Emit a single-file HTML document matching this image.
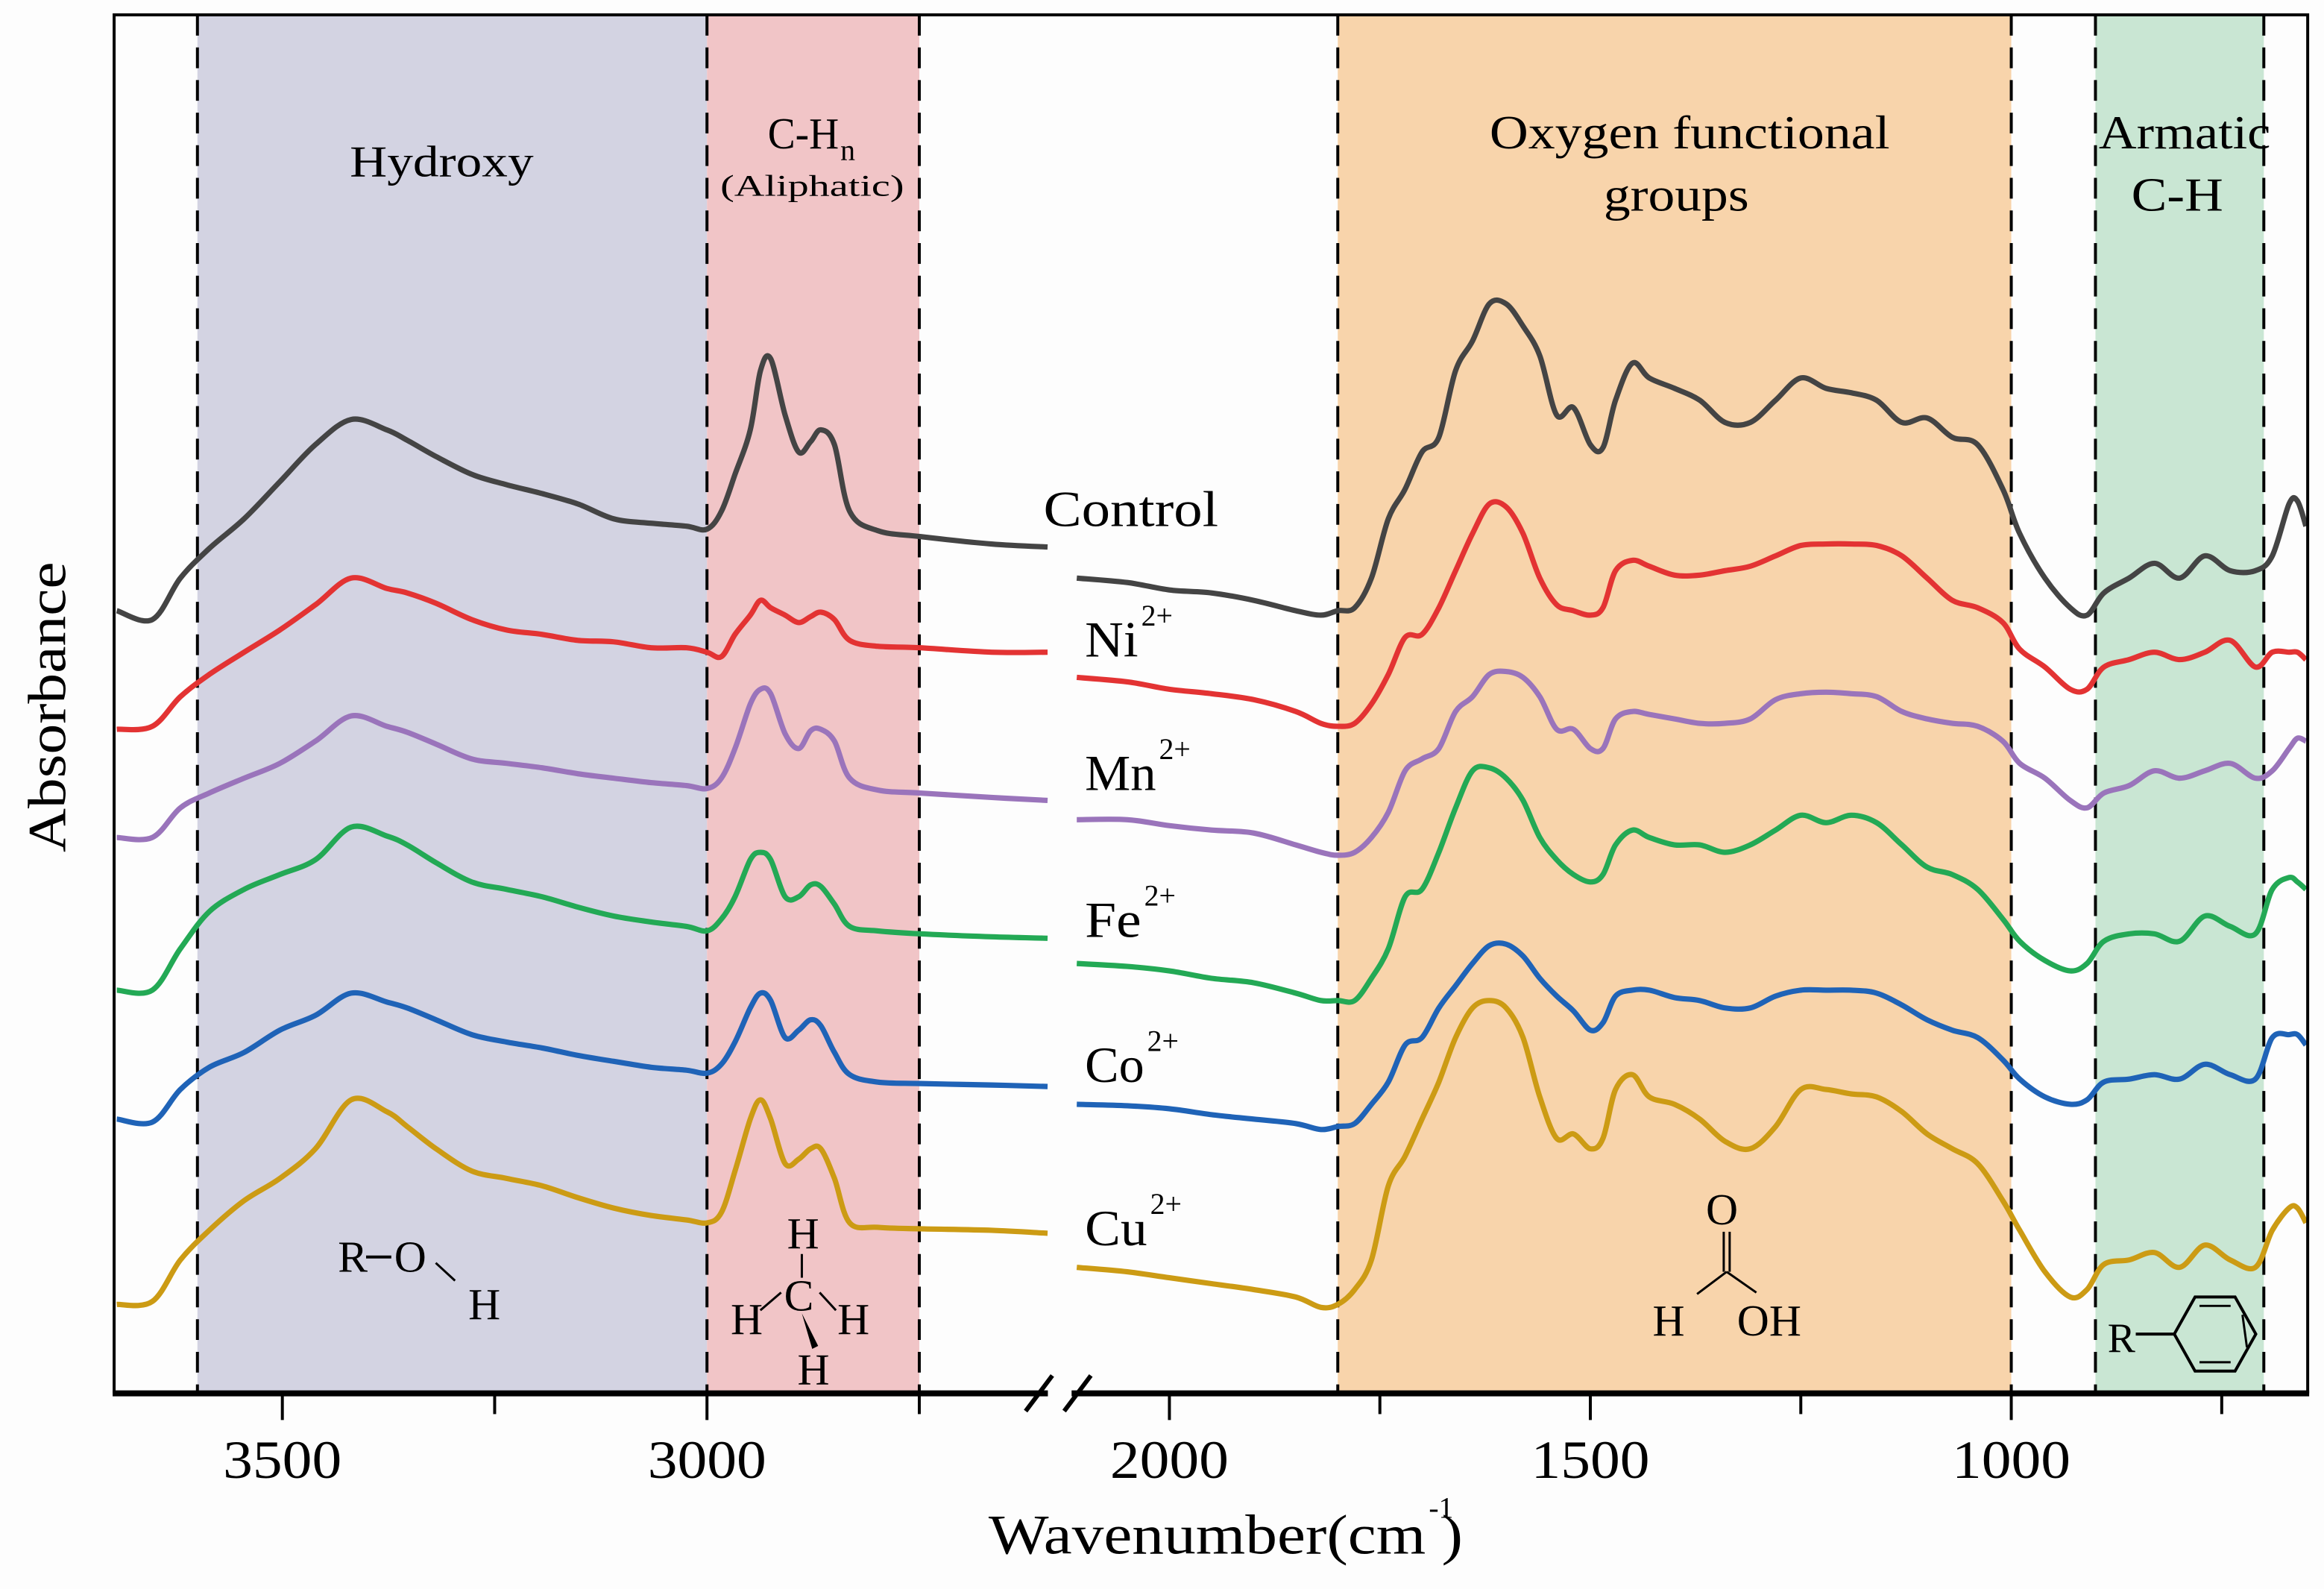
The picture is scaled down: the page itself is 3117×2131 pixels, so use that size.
<!DOCTYPE html>
<html><head><meta charset="utf-8">
<style>
html,body{margin:0;padding:0;background:#fff;}
svg{display:block;}
text{font-family:"Liberation Serif",serif;fill:#000;}
</style></head>
<body>
<svg id="chart" width="3117" height="2131" viewBox="0 0 1568 1072" preserveAspectRatio="none" xmlns="http://www.w3.org/2000/svg">
<rect x="0" y="0" width="1568" height="1072" fill="#fdfdfd"/>
<g id="bands"></g>
<g id="dashes"></g>
<g id="curves"></g>
<g id="axes"></g>
<g id="labels">
 <text x="298" y="119" font-size="30" text-anchor="middle" textLength="124" lengthAdjust="spacingAndGlyphs">Hydroxy</text>
 <text x="518" y="100" font-size="30" textLength="48" lengthAdjust="spacingAndGlyphs">C-H</text>
 <text x="567" y="108" font-size="20">n</text>
 <text x="548" y="132" font-size="20" text-anchor="middle" textLength="124" lengthAdjust="spacingAndGlyphs">(Aliphatic)</text>
 <text x="1140" y="100" font-size="32" text-anchor="middle" textLength="270" lengthAdjust="spacingAndGlyphs">Oxygen functional</text>
 <text x="1131" y="142" font-size="32" text-anchor="middle" textLength="98" lengthAdjust="spacingAndGlyphs">groups</text>
 <text x="1474" y="100" font-size="32" text-anchor="middle" textLength="116" lengthAdjust="spacingAndGlyphs">Armatic</text>
 <text x="1469" y="142" font-size="32" text-anchor="middle" textLength="62" lengthAdjust="spacingAndGlyphs">C-H</text>

 <text x="704" y="355" font-size="34" textLength="118" lengthAdjust="spacingAndGlyphs">Control</text>
 <g><text x="732" y="443" font-size="34" textLength="36" lengthAdjust="spacingAndGlyphs">Ni</text><text x="770" y="422" font-size="20">2+</text></g>
 <g><text x="732" y="533" font-size="34" textLength="48" lengthAdjust="spacingAndGlyphs">Mn</text><text x="782" y="512" font-size="20">2+</text></g>
 <g><text x="732" y="632" font-size="34" textLength="38" lengthAdjust="spacingAndGlyphs">Fe</text><text x="772" y="611" font-size="20">2+</text></g>
 <g><text x="732" y="730" font-size="34" textLength="40" lengthAdjust="spacingAndGlyphs">Co</text><text x="774" y="709" font-size="20">2+</text></g>
 <g><text x="732" y="840" font-size="34" textLength="42" lengthAdjust="spacingAndGlyphs">Cu</text><text x="776" y="819" font-size="20">2+</text></g>

 <g>
  <text x="228" y="858" font-size="30">R</text>
  <line x1="247" y1="848" x2="264" y2="848" stroke="#000" stroke-width="2"/>
  <text x="266" y="858" font-size="30">O</text>
  <line x1="294" y1="852" x2="307" y2="864" stroke="#000" stroke-width="1.5"/>
  <text x="316" y="890" font-size="30">H</text>
 </g>
 <g>
  <text x="531" y="842" font-size="30">H</text>
  <line x1="541" y1="846" x2="541" y2="862" stroke="#000" stroke-width="1.5"/>
  <text x="529" y="884" font-size="30">C</text>
  <text x="493" y="900" font-size="30">H</text>
  <text x="565" y="900" font-size="30">H</text>
  <line x1="513" y1="884" x2="527" y2="872" stroke="#000" stroke-width="1.5"/>
  <line x1="553" y1="872" x2="564" y2="884" stroke="#000" stroke-width="1.5"/>
  <polygon points="541,886 548,910 552,908" fill="#000"/>
  <text x="538" y="934" font-size="30">H</text>
 </g>
 <g>
  <text x="1151" y="826" font-size="30">O</text>
  <line x1="1163" y1="831" x2="1163" y2="858" stroke="#000" stroke-width="1.5"/>
  <line x1="1167" y1="831" x2="1167" y2="858" stroke="#000" stroke-width="1.5"/>
  <line x1="1165" y1="858" x2="1145" y2="873" stroke="#000" stroke-width="1.5"/>
  <line x1="1165" y1="858" x2="1185" y2="872" stroke="#000" stroke-width="1.5"/>
  <text x="1115" y="901" font-size="30">H</text>
  <text x="1172" y="901" font-size="30">OH</text>
 </g>
 <g>
  <text x="1422" y="912" font-size="28">R</text>
  <line x1="1441" y1="900" x2="1467" y2="900" stroke="#000" stroke-width="2"/>
  <polygon points="1467,900 1481,875 1508,875 1522,900 1508,925 1481,925" fill="none" stroke="#000" stroke-width="2"/>
  <line x1="1484" y1="881" x2="1505" y2="881" stroke="#000" stroke-width="1.5"/>
  <line x1="1513" y1="887" x2="1516" y2="909" stroke="#000" stroke-width="1.5"/>
  <line x1="1484" y1="919" x2="1505" y2="919" stroke="#000" stroke-width="1.5"/>
 </g>

 <text x="827" y="1048" font-size="38" text-anchor="middle" textLength="320" lengthAdjust="spacingAndGlyphs">Wavenumber(cm  )</text>
 <text x="964" y="1024" font-size="20">-1</text>
 <text transform="translate(44,477) rotate(-90)" font-size="36" text-anchor="middle" textLength="196" lengthAdjust="spacingAndGlyphs">Absorbance</text>
</g>
</svg>
<script>
const wnLeft = [3695,3653,3620,3586,3545,3503,3461,3419,3377,3353,3319,3277,3236,3194,3152,3110,3066,3024,3000,2983,2967,2949,2937,2925,2908,2892,2878,2866,2850,2832,2799,2749,2665,2599];
const wnRight = [2110,2050,2000,1950,1900,1850,1820,1800,1780,1760,1740,1720,1700,1680,1660,1640,1620,1600,1580,1560,1540,1520,1500,1485,1470,1450,1430,1400,1370,1340,1310,1280,1250,1220,1190,1160,1130,1100,1070,1040,1010,990,960,930,910,890,860,830,800,770,740,710,690,670,660,650];
const seriesNames = ["Control","Ni","Mn","Fe","Co","Cu"];
const seriesColors = ["#444444","#e33333","#9a74bb","#23a955","#1f63b7","#cc9b14"];
const controlLeft = [528,522,550,570,590,615,640,657,650,643,632,620,613,607,600,590,587,585,583,595,620,650,690,698,660,635,642,650,640,595,582,578,573,571];
const controlRight = [550,547,542,540,535,528,525,528,530,550,590,610,635,645,690,710,735,735,720,700,660,665,640,638,670,695,685,678,670,655,655,670,685,678,675,670,655,658,645,640,610,580,550,530,525,540,550,560,550,565,555,555,565,600,602,585];
const niLeft = [448,450,470,485,500,515,532,550,543,540,533,522,515,512,508,507,503,503,500,497,512,525,535,530,525,520,524,527,522,508,504,503,500,500];
const niRight = [483,480,475,472,468,460,452,450,452,465,485,510,512,530,555,580,600,598,580,550,532,528,525,530,555,562,558,552,552,555,558,565,572,573,573,572,565,550,535,530,520,502,490,475,475,490,495,500,495,500,508,490,500,500,500,495];
const mnLeft = [375,375,395,405,415,425,440,457,450,446,438,428,425,422,418,415,412,410,408,415,435,465,475,472,445,435,447,448,440,415,407,405,402,400];
const mnRight = [387,387,383,380,378,370,365,363,365,375,392,420,428,435,460,470,485,487,483,470,448,448,435,435,455,460,458,455,452,452,455,468,472,473,472,470,460,455,452,450,440,425,415,400,395,405,410,420,415,420,425,415,420,435,442,440];
const feLeft = [272,272,300,325,340,350,360,382,376,370,358,345,340,335,328,322,318,315,312,320,335,360,365,360,335,335,343,342,330,315,312,310,308,307];
const feRight = [290,288,285,280,277,270,265,265,265,280,300,335,340,365,395,420,422,415,400,375,360,350,345,350,370,380,375,370,370,365,370,380,390,385,390,385,370,355,350,340,320,305,292,285,290,305,310,310,305,322,315,310,340,348,345,340];
const coLeft = [185,183,205,220,230,245,255,270,264,260,252,242,237,233,228,224,220,218,216,222,237,260,270,265,240,245,252,248,230,215,210,209,208,207];
const coRight = [195,194,192,188,185,182,178,180,182,195,210,235,240,260,275,290,302,303,295,280,268,258,245,250,268,272,272,267,265,260,260,268,272,272,272,270,262,252,245,240,225,212,200,195,198,210,212,215,212,222,215,212,240,242,242,235];
const cuLeft = [60,62,90,110,130,145,165,198,190,180,165,150,145,140,132,125,120,117,115,122,150,185,198,185,155,158,165,165,145,115,112,111,110,108];
const cuRight = [85,82,78,74,70,65,58,60,70,90,140,160,185,210,240,260,265,260,240,200,172,175,165,172,205,215,200,195,185,170,165,180,205,205,202,200,190,175,165,155,130,110,82,65,70,87,90,95,85,100,90,85,110,125,125,115];
const bandStarts = [3600,3000,1800,900];
const bandEnds = [3000,2750,1000,700];
const bandColors = ["#d3d3e2","#f1c5c7","#f8d4ab","#c9e6d3"];
const dashedLines = [3600,3000,2750,1800,1000,900,700];
const majorTicks = [3500,3000,2000,1500,1000];
const tickLabels = ["3500","3000","2000","1500","1000"];
const minorTicks = [3250,2750,1750,1250,750];

const plotL=77, plotR=1557, plotT=10, plotB=940;
function xScale(w){ return w>=2300 ? 477+(3000-w)*0.573 : 789+(2000-w)*0.568; }
function yScale(a){ return 940-a; }

const NS="http://www.w3.org/2000/svg";
function mk(tag, parent, attrs){ const e=document.createElementNS(NS,tag); for(const k in attrs) e.setAttribute(k,attrs[k]); parent.appendChild(e); return e; }

const gB=document.getElementById('bands');
bandStarts.forEach((s,i)=>{
  const x0=xScale(s), x1=xScale(bandEnds[i]);
  const r=mk('rect',gB,{x:x0,y:plotT,width:x1-x0,height:plotB-plotT,fill:bandColors[i]});
  
  
});
const gD=document.getElementById('dashes');
dashedLines.forEach((w,i)=>{
  const x=xScale(w);
  const l=mk('line',gD,{x1:x,x2:x,y1:plotT,y2:plotB,stroke:'#000','stroke-width':2,'stroke-dasharray':'14,8'});
  
  
});

function smoothPath(pts){
  let d='M'+pts[0][0].toFixed(1)+','+pts[0][1].toFixed(1);
  for(let i=0;i<pts.length-1;i++){
    const p0=pts[Math.max(0,i-1)],p1=pts[i],p2=pts[i+1],p3=pts[Math.min(pts.length-1,i+2)];
    const c1=[p1[0]+(p2[0]-p0[0])/6,p1[1]+(p2[1]-p0[1])/6];
    const c2=[p2[0]-(p3[0]-p1[0])/6,p2[1]-(p3[1]-p1[1])/6];
    d+=' C'+c1[0].toFixed(1)+','+c1[1].toFixed(1)+' '+c2[0].toFixed(1)+','+c2[1].toFixed(1)+' '+p2[0].toFixed(1)+','+p2[1].toFixed(1);
  }
  return d;
}
const lefts=[controlLeft,niLeft,mnLeft,feLeft,coLeft,cuLeft];
const rights=[controlRight,niRight,mnRight,feRight,coRight,cuRight];
const gC=document.getElementById('curves');
seriesNames.forEach((n,i)=>{
  const lp=wnLeft.map((w,j)=>[xScale(w),yScale(lefts[i][j])]);
  const rp=wnRight.map((w,j)=>[xScale(w),yScale(rights[i][j])]);
  const p1=mk('path',gC,{d:smoothPath(lp),fill:'none',stroke:seriesColors[i],'stroke-width':3.6,'stroke-linejoin':'round'});
  
  
  const p2=mk('path',gC,{d:smoothPath(rp),fill:'none',stroke:seriesColors[i],'stroke-width':3.6,'stroke-linejoin':'round'});
  
  
});

const gA=document.getElementById('axes');
const frame=mk('path',gA,{d:`M${plotL},${plotB} L${plotL},${plotT} L${plotR},${plotT} L${plotR},${plotB}`,fill:'none',stroke:'#000','stroke-width':2});


const xl=mk('line',gA,{x1:plotL-1,x2:plotR+1,y1:plotB,y2:plotB,stroke:'#000','stroke-width':4});


majorTicks.forEach((w,i)=>{
  const x=xScale(w);
  const t=mk('line',gA,{x1:x,x2:x,y1:plotB,y2:plotB+18,stroke:'#000','stroke-width':2});
  
  
  const tx=mk('text',gA,{x:x,y:plotB+57,'font-size':36,'text-anchor':'middle',textLength:80,lengthAdjust:'spacingAndGlyphs'});
  tx.textContent=tickLabels[i];
  
  
});
minorTicks.forEach(w=>{
  const x=xScale(w);
  const t=mk('line',gA,{x1:x,x2:x,y1:plotB,y2:plotB+14,stroke:'#000','stroke-width':2});
  
  
});
const br=mk('g',gA,{});


mk('rect',br,{x:707,y:plotB-4,width:16,height:8,fill:'#fdfdfd'});
mk('line',br,{x1:692,y1:plotB+12,x2:710,y2:plotB-12,stroke:'#000','stroke-width':3});
mk('line',br,{x1:718,y1:plotB+12,x2:736,y2:plotB-12,stroke:'#000','stroke-width':3});
</script>
</body></html>
